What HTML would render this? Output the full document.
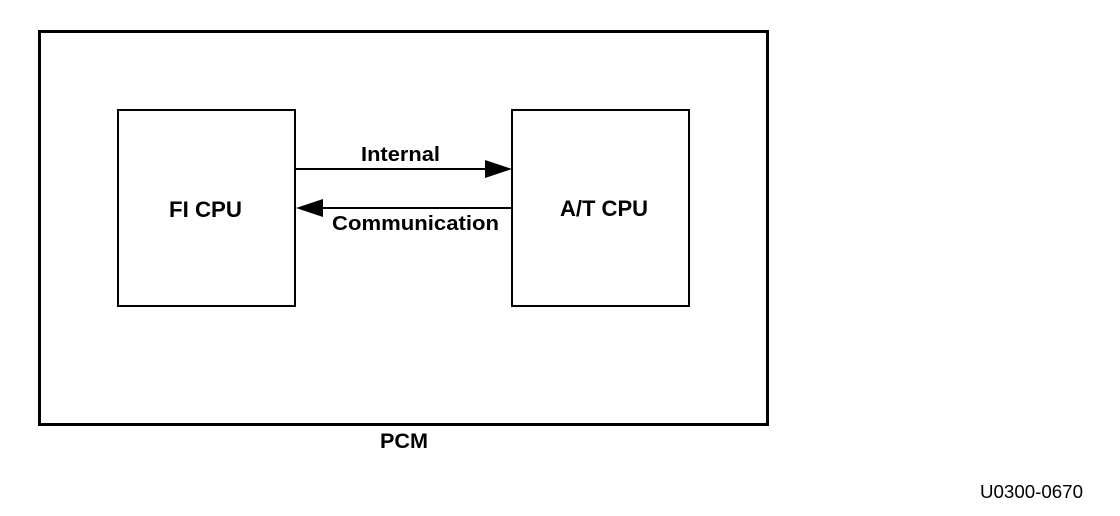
<!DOCTYPE html>
<html><head><meta charset="utf-8"><style>
html,body{margin:0;padding:0;background:#fff;}
svg{display:block;}
text{font-family:"Liberation Sans",Arial,sans-serif;font-weight:bold;fill:#000;}
</style></head><body>
<svg width="1120" height="516" viewBox="0 0 1120 516" xmlns="http://www.w3.org/2000/svg">
<rect x="39.5" y="31.5" width="728" height="393" fill="none" stroke="#000" stroke-width="3"/>
<rect x="118" y="110" width="177" height="196" fill="none" stroke="#000" stroke-width="2"/>
<rect x="512" y="110" width="177" height="196" fill="none" stroke="#000" stroke-width="2"/>
<line x1="296" y1="169" x2="490" y2="169" stroke="#000" stroke-width="2"/>
<polygon points="485,160 512,169 485,178" fill="#000"/>
<line x1="318" y1="208" x2="511" y2="208" stroke="#000" stroke-width="2"/>
<polygon points="323,199 296,208 323,217" fill="#000"/>
<text x="361" y="161" font-size="20" textLength="79" lengthAdjust="spacingAndGlyphs">Internal</text>
<text x="332" y="230" font-size="20" textLength="167" lengthAdjust="spacingAndGlyphs">Communication</text>
<text x="169" y="217" font-size="22" textLength="73" lengthAdjust="spacingAndGlyphs">FI CPU</text>
<text x="560" y="216" font-size="22" textLength="88" lengthAdjust="spacingAndGlyphs">A/T CPU</text>
<text x="380" y="448" font-size="21" textLength="48" lengthAdjust="spacingAndGlyphs">PCM</text>
<text x="980" y="498" font-size="18" style="font-weight:normal" textLength="103" lengthAdjust="spacingAndGlyphs">U0300-0670</text>
</svg>
</body></html>
